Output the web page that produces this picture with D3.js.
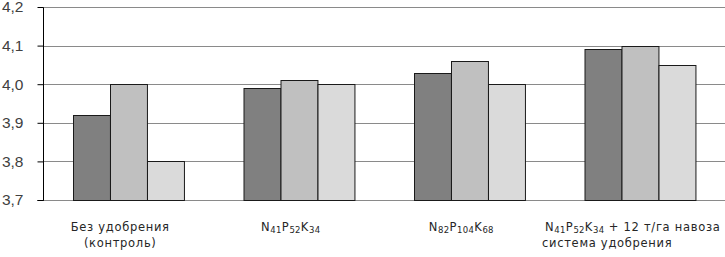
<!DOCTYPE html>
<html>
<head>
<meta charset="utf-8">
<script src="https://cdn.jsdelivr.net/npm/d3@7"></script>
<style>
	html, body { margin: 0; padding: 0; background: #fff; overflow: hidden; }
	text { font-family: 'DejaVu Sans', sans-serif; fill: #262626; }
</style>
</head>
<body>
<svg id="chart"></svg>
<script>
// categories (label parts: [text, subscript?])
const categories = ['control', 'npk1', 'npk2', 'org'];
const series = ['s1', 's2', 's3'];
const values = [
	[3.92, 4.00, 3.80],
	[3.99, 4.01, 4.00],
	[4.03, 4.06, 4.00],
	[4.09, 4.10, 4.05]
];
const yTicks = [3.7, 3.8, 3.9, 4.0, 4.1, 4.2];
const labels = [
	[[['Без удобрения']], [['(контроль)']]],
	[[['N'], ['41', 1], ['P'], ['52', 1], ['K'], ['34', 1]]],
	[[['N'], ['82', 1], ['P'], ['104', 1], ['K'], ['68', 1]]],
	[[['N'], ['41', 1], ['P'], ['52', 1], ['K'], ['34', 1], [' + 12 т/га навоза']], [['система удобрения']]]
];

const config = {
	width: 725,
	height: 257,
	margin: { left: 43, right: 0, top: 7, bottom: 57 },
	colors: ['#808080', '#c0c0c0', '#dadada'],
	grid: '#8a8a8a'
};

const svg = d3.select('#chart')
	.attr('width', config.width)
	.attr('height', config.height);

const m = config.margin;
const y = d3.scaleLinear().domain([3.7, 4.2]).range([config.height - m.bottom, m.top]);
const x0 = d3.scaleBand().domain(categories).range([m.left, config.width - m.right]);
const gap = x0.bandwidth() * 0.35;
const x1 = d3.scaleBand().domain(series).range([gap / 2, x0.bandwidth() - gap / 2]);

// gridlines
svg.append('g')
	.selectAll('line')
	.data(yTicks)
	.enter()
	.append('line')
	.attr('x1', m.left)
	.attr('x2', config.width - m.right)
	.attr('y1', d => Math.round(y(d)) + 0.5)
	.attr('y2', d => Math.round(y(d)) + 0.5)
	.style('stroke', config.grid)
	.style('stroke-width', 1);

// bars
svg.append('g')
	.selectAll('g')
	.data(values)
	.enter()
	.append('g')
	.attr('transform', (d, i) => `translate(${x0(categories[i])},0)`)
	.selectAll('rect')
	.data(d => d)
	.enter()
	.append('rect')
	.attr('x', (d, i) => Math.round(x1(series[i])) + 0.5)
	.attr('width', x1.bandwidth())
	.attr('y', d => Math.round(y(d)) + 0.5)
	.attr('height', d => y(3.7) - Math.round(y(d)))
	.attr('fill', (d, i) => config.colors[i])
	.style('stroke', '#1a1a1a')
	.style('stroke-width', 1);

// y axis
const yAxis = svg.append('g')
	.attr('transform', `translate(${m.left + 0.5},0)`)
	.call(d3.axisLeft(y).tickValues(yTicks).tickSize(6).tickPadding(14)
		.tickFormat(d => d3.format('.1f')(d).replace('.', ',')));
yAxis.select('.domain').attr('d', `M-6,${y(3.7) + 0.5}H0V${y(4.2) + 0.5}`).style('stroke', '#000');
yAxis.selectAll('.tick line').style('stroke', '#000');
yAxis.selectAll('.tick text')
	.style('font-size', '15.5px')
	.style('fill', '#404040')
	.style('font-family', "'Liberation Sans', sans-serif");

// category labels
const lab = svg.append('g').style('font-size', '11.5px').style('letter-spacing', '0.7px');
labels.forEach((lines, i) => {
	const cx = x0(categories[i]) + x0.bandwidth() / 2;
	const last = i === 3;
	lines.forEach((parts, j) => {
		const t = lab.append('text')
			.attr('x', last ? 545 - (j ? 3 : 0) : cx - 8)
			.attr('y', 231 + j * 16)
			.attr('text-anchor', last ? 'start' : 'middle');
		parts.forEach((p, k) => {
			const ts = t.append('tspan').text(p[0]);
			if (p[1]) ts.style('font-size', '8.5px').style('letter-spacing', '0.3px').attr('dy', 2);
			else if (k > 0 && parts[k - 1][1]) ts.attr('dy', -2);
		});
	});
});
</script>
</body>
</html>
